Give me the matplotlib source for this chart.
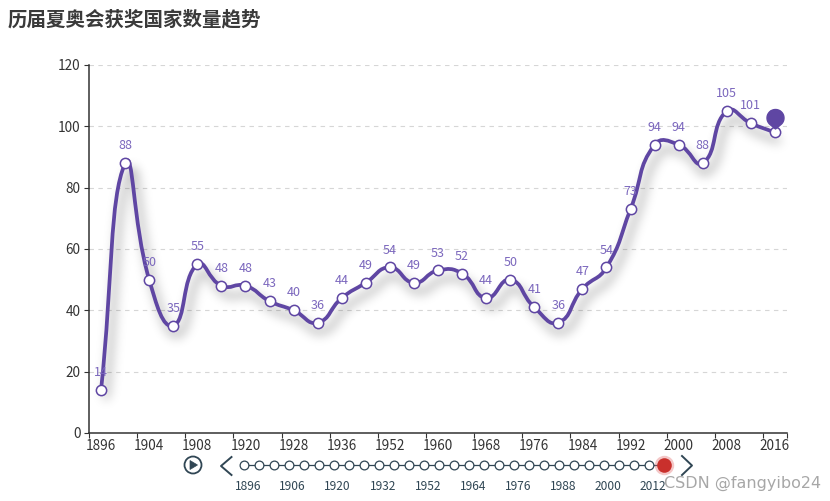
import numpy as np
import matplotlib
matplotlib.use("Agg")
import matplotlib.pyplot as plt
from matplotlib.path import Path
from matplotlib.patches import PathPatch, Circle, Polygon
from matplotlib.lines import Line2D

plt.rcParams['font.family'] = ['Noto Sans CJK SC', 'DejaVu Sans']

# ---------------- data ----------------
years = ['1896', '1900', '1904', '1906', '1908', '1912', '1920', '1924', '1928', '1932',
         '1936', '1948', '1952', '1956', '1960', '1964', '1968', '1972', '1976', '1980',
         '1984', '1988', '1992', '1996', '2000', '2004', '2008', '2012', '2016']
counts = [14, 88, 50, 35, 55, 48, 48, 43, 40, 36,
          44, 49, 54, 49, 53, 52, 44, 50, 41, 36,
          47, 54, 73, 94, 94, 88, 105, 101, 98]
title = '历届夏奥会获奖国家数量趋势'
y_ticks = [0, 20, 40, 60, 80, 100, 120]
watermark = 'CSDN @fangyibo24'

LINE = '#5f46a3'
LABEL = '#7b67bd'
AXIS = '#333333'
TL = '#304654'

W, H = 830, 501
fig = plt.figure(figsize=(W / 100, H / 100), dpi=100)

# main axes: x 89..787 px, y 65..433 px
ax = fig.add_axes([89 / W, (H - 433) / H, (787 - 89) / W, (433 - 65) / H])
n = len(years)
xs = np.arange(n, dtype=float)
ys = np.array(counts, dtype=float)
ax.set_xlim(-0.5, n - 0.5)
ax.set_ylim(0, 120)

# pixel scale factors for smoothing (ECharts-like bezier smoothing in screen space)
sx = (787 - 89) / n
sy = (433 - 65) / 120.0


def smooth_path(x, y, smooth=0.5):
    P = np.column_stack([x * sx, y * sy])
    m = len(P)
    cin, cout = [], []
    for i in range(m):
        p = P[i]
        prev = P[i - 1] if i > 0 else p
        nxt = P[i + 1] if i < m - 1 else p
        v = (nxt - prev) * smooth
        d0 = np.hypot(*(p - prev))
        d1 = np.hypot(*(nxt - p))
        s = d0 + d1
        if s > 0:
            d0 /= s
            d1 /= s
        cin.append(p - v * d0)
        cout.append(p + v * d1)
    verts = [P[0]]
    codes = [Path.MOVETO]
    for i in range(m - 1):
        verts += [cout[i], cin[i + 1], P[i + 1]]
        codes += [Path.CURVE4] * 3
    verts = np.array(verts) / np.array([sx, sy])
    return Path(verts, codes)


def blur1d(a, sigma, axis):
    r = int(3 * sigma)
    k = np.exp(-np.arange(-r, r + 1) ** 2 / (2 * sigma ** 2))
    k /= k.sum()
    return np.apply_along_axis(lambda mm: np.convolve(mm, k, mode='same'), axis, a)


def shadow_filter(im, dpi):
    pad = 28
    a = np.pad(im[:, :, 3], pad)
    a = blur1d(blur1d(a, 5.5, 0), 5.5, 1)
    a = np.roll(a, 5, axis=1)
    a = np.roll(a, 9, axis=0)
    out = np.zeros(a.shape + (4,), dtype=im.dtype)
    out[..., 3] = np.clip(a * 0.45, 0, 1)
    return out, -pad, -pad


path = smooth_path(xs, ys)

shadow = PathPatch(path, fill=False, ec='black', lw=2.7, zorder=2)
shadow.set_agg_filter(shadow_filter)
shadow.set_rasterized(True)
ax.add_patch(shadow)

line = PathPatch(path, fill=False, ec=LINE, lw=2.7, zorder=3, capstyle='round', joinstyle='round')
ax.add_patch(line)

ax.plot(xs, ys, 'o', ms=7.4, mfc='white', mec=LINE, mew=1.1, zorder=4, clip_on=False)

for xi, yi in zip(xs, ys):
    ax.annotate(f'{int(yi)}', (xi, yi), xytext=(0, 12.5), textcoords='offset points',
                ha='center', va='center', fontsize=9, color=LABEL, zorder=5)

# pin markPoint on the last value (covers its own label)
r_ = 8.5
cy_ = 14.5
tip = 3.5
d_ = cy_ - tip
alpha = np.degrees(np.arccos(r_ / d_))
a0 = -90 + alpha
a1 = 270 - alpha
angs = np.radians(np.linspace(a0, a1, 40))
pv = [(0, tip)] + [(r_ * np.cos(t), cy_ + r_ * np.sin(t)) for t in angs] + [(0, tip)]
pin_path = Path(pv, [Path.MOVETO] + [Path.LINETO] * 40 + [Path.CLOSEPOLY])
ext = max(abs(v) for pt in pv for v in pt)
ax.plot([xs[-1]], [ys[-1]], marker=pin_path, ms=2 * ext * 0.72, color=LINE, mec=LINE,
        ls='none', zorder=6, clip_on=False)

# axes styling
for s in ['top', 'right']:
    ax.spines[s].set_visible(False)
for s in ['left', 'bottom']:
    ax.spines[s].set_color(AXIS)
    ax.spines[s].set_linewidth(1.1)

ax.set_yticks(y_ticks)
ax.set_yticklabels([str(v) for v in y_ticks])
ax.tick_params(axis='y', direction='out', length=3.6, width=0.8, color=AXIS,
               labelsize=9.8, labelcolor=AXIS, pad=2.5)
ax.yaxis.grid(True, ls=(0, (4, 4)), color='#d6d6d6', lw=0.8)
ax.set_axisbelow(True)

ax.set_xticks(np.arange(-0.5, n, 2.0).tolist() + [n - 0.5])
ax.set_xticklabels([])
ax.tick_params(axis='x', which='major', direction='out', length=3.6, width=0.8, color=AXIS)
ax.set_xticks(xs[::2], minor=True)
ax.set_xticklabels(years[::2], minor=True)
ax.tick_params(axis='x', which='minor', length=0, labelsize=9.8, labelcolor=AXIS, pad=4)

# ---------------- overlay (title, timeline decorations, watermark) ----------------
ov = fig.add_axes([0, 0, 1, 1], zorder=-1)
ov.set_xlim(0, W)
ov.set_ylim(H, 0)
ov.axis('off')
ov.patch.set_visible(False)

fig.text(8 / W, 1 - 20 / H, title, ha='left', va='center', fontsize=14,
         fontweight='bold', color='#3a3a3a')

# play button
ov.add_patch(Circle((193, 465), 8.5, fill=False, ec=TL, lw=1.3))
ov.add_patch(Polygon([(190, 460.5), (190, 469.5), (197.5, 465)], closed=True, fc=TL, ec=TL, lw=0.5))
# arrows
ov.add_line(Line2D([231.5, 221, 231.5], [457, 466, 475], color=TL, lw=1.4))
ov.add_line(Line2D([682, 692, 682], [456, 465.5, 475], color=TL, lw=1.4))

# timeline axes: items 0..n-1 from x=244 to 664 px
tl = fig.add_axes([244 / W, (H - 500) / H, (664 - 244) / W, 70 / H])
tl.set_xlim(0, n - 1)
tl.set_ylim(-35, 35)   # center y = 465 px
tl.axis('off')
tl.patch.set_visible(False)
tl.plot(xs, np.zeros(n), '-', color=TL, lw=0.9, zorder=1, clip_on=False)
tl.plot(xs[:-1], np.zeros(n - 1), 'o', ms=6.3, mfc='white', mec=TL, mew=0.9, zorder=2, clip_on=False)
tl.plot([xs[-1]], [0], 'o', ms=14, color='#e06060', alpha=0.35, mew=0, zorder=3, clip_on=False)
tl.plot([xs[-1]], [0], 'o', ms=10.5, color='#c9302c', mew=0, zorder=4, clip_on=False)
for i in range(0, n, 3):
    tl.text(xs[i] + 0.25, -21.5, years[i], ha='center', va='center', fontsize=8.6, color=TL)

ov2 = fig.add_axes([0, 0, 1, 1], zorder=10)
ov2.set_xlim(0, W)
ov2.set_ylim(H, 0)
ov2.axis('off')
ov2.patch.set_visible(False)
ov2.text(743, 483, watermark, ha='center', va='center', fontsize=11.5,
         color='#8a8a8a', alpha=0.75, family=['DejaVu Sans'])

fig.savefig('out.png', dpi=100)
